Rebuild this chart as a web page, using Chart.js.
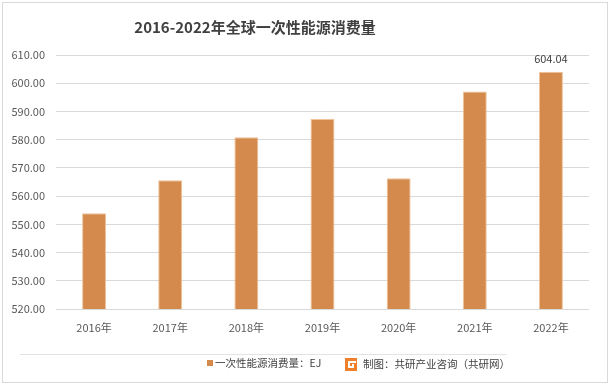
<!DOCTYPE html>
<html><head><meta charset="utf-8">
<script src="https://cdn.jsdelivr.net/npm/chart.js@4"></script>
<style>html,body{margin:0;padding:0;background:#fff}#wrap{width:613px;height:388px;position:relative}</style>
</head><body><div id="wrap"><canvas id="c" width="613" height="388"></canvas></div>
<script>
const titleText = '2016-2022年全球一次性能源消费量';
const categories = ['2016年','2017年','2018年','2019年','2020年','2021年','2022年'];
const values = [553.9, 565.6, 580.9, 587.3, 566.3, 597.1, 604.04];
const seriesName = '一次性能源消费量：EJ';
const sourceText = '制图：共研产业咨询（共研网）';
const labelledIndex = 6;

const CJK = '"Noto Sans CJK SC", "Noto Sans", sans-serif';

const decor = {
  id: 'decor',
  beforeDraw(chart) {
    const ctx = chart.ctx;
    ctx.save();
    ctx.fillStyle = '#fff';
    ctx.fillRect(0, 0, chart.width, chart.height);
    ctx.restore();
  },
  afterDraw(chart) {
    const ctx = chart.ctx;
    ctx.save();
    // outer border
    ctx.strokeStyle = '#D9D9D9';
    ctx.lineWidth = 1;
    ctx.strokeRect(2.5, 2.5, 605, 380);
    // title
    ctx.fillStyle = '#404040';
    ctx.font = 'bold 15px ' + CJK;
    ctx.textAlign = 'center';
    ctx.textBaseline = 'middle';
    ctx.fillText(titleText, 255, 27);
    // data label
    const meta = chart.getDatasetMeta(0);
    const el = meta.data[labelledIndex];
    ctx.font = '11px ' + CJK;
    ctx.fillStyle = '#404040';
    ctx.fillText(values[labelledIndex].toFixed(2), el.x, el.y - 13);
    // separator
    ctx.strokeStyle = '#E3E3E3';
    ctx.beginPath();
    ctx.moveTo(20, 354.5); ctx.lineTo(507, 354.5);
    ctx.stroke();
    // legend
    ctx.fillStyle = '#D38A4C';
    ctx.fillRect(207, 360, 6, 6);
    ctx.fillStyle = '#404040';
    ctx.font = '10.5px ' + CJK;
    ctx.textAlign = 'left';
    ctx.fillText(seriesName, 215, 363.5);
    // logo
    ctx.fillStyle = '#F07F2A';
    ctx.fillRect(345, 358, 12, 13);
    ctx.fillStyle = '#fff';
    ctx.fillRect(348, 361, 8, 2);
    ctx.fillRect(348, 361, 2, 7);
    ctx.fillRect(348, 366, 6, 2);
    ctx.fillRect(352, 364, 2, 4);
    // source
    ctx.fillStyle = '#404040';
    ctx.font = '10.5px ' + CJK;
    ctx.fillText(sourceText, 363, 364.5);
    ctx.restore();
  }
};

new Chart(document.getElementById('c'), {
  type: 'bar',
  data: {
    labels: categories,
    datasets: [{
      label: seriesName,
      data: values,
      backgroundColor: '#D38A4C',
      borderColor: '#EFC29A',
      borderWidth: 1,
      categoryPercentage: 1,
      barPercentage: 0.315
    }]
  },
  options: {
    responsive: false,
    animation: false,
    devicePixelRatio: 1,
    layout: { padding: { top: 55, right: 24, left: 0, bottom: 0 } },
    plugins: { legend: { display: false }, title: { display: false }, tooltip: { enabled: false } },
    scales: {
      x: {
        grid: { display: false, drawTicks: false },
        border: { display: false },
        ticks: { color: '#595959', font: { family: CJK, size: 11 }, padding: 12 },
        afterFit(s) { s.height = 79; }
      },
      y: {
        min: 520, max: 610,
        grid: { color: '#D9D9D9', drawTicks: false },
        border: { display: false },
        ticks: { stepSize: 10, color: '#595959', font: { family: CJK, size: 11 }, padding: 11,
          callback: v => Number(v).toFixed(2) },
        afterFit(s) { s.width = 56; }
      }
    }
  },
  plugins: [decor]
});
</script></body></html>
